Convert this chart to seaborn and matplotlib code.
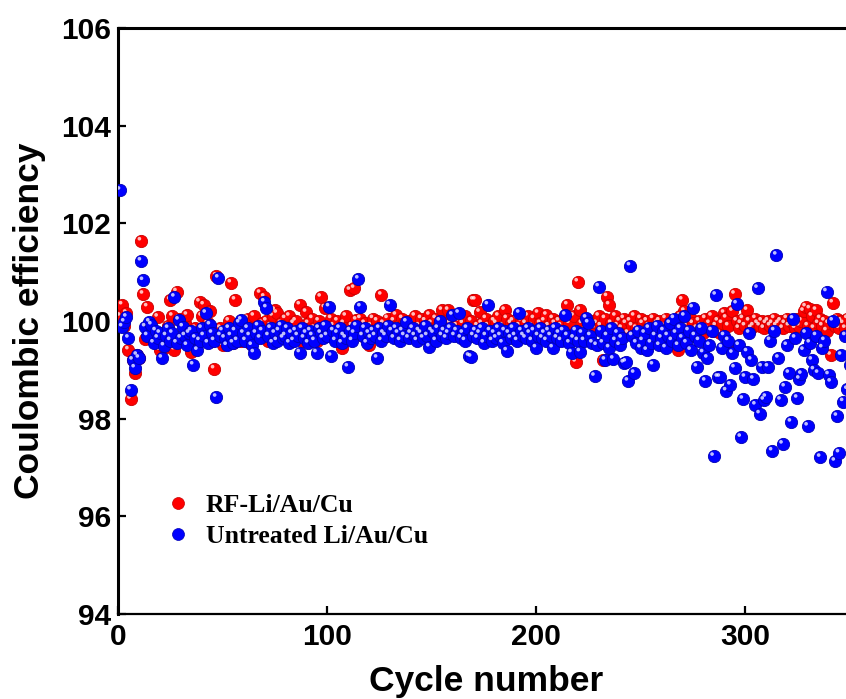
import numpy as np
import pandas as pd
import matplotlib
matplotlib.use("Agg")
import matplotlib.pyplot as plt
import matplotlib.transforms as mtransforms
from matplotlib.lines import Line2D
import seaborn as sns

# ---------------- data ----------------
series_names = ["RF-Li/Au/Cu", "Untreated Li/Au/Cu"]
series_colors = ["#ff0000", "#0000ff"]
edge_colors = ["#c80000", "#0000b4"]

cycles = list(range(1, 351))

rf_ce = [
    100.10, 100.33, 99.90, 100.16, 99.41, 98.40, 99.20, 98.93, 99.30, 99.25,
    101.64, 100.55, 99.63, 100.29, 99.85, 99.80, 99.70, 99.55, 100.08, 99.40,
    99.60, 99.45, 99.75, 99.90, 100.43, 100.10, 99.41, 100.60, 100.05, 99.70,
    100.00, 99.95, 100.12, 99.80, 99.37, 99.60, 99.85, 99.55, 100.39, 100.10,
    100.33, 99.75, 99.95, 100.20, 99.60, 99.02, 100.92, 99.70, 99.85, 99.50,
    99.80, 99.65, 100.00, 100.78, 99.55, 100.43, 99.70, 99.90, 99.60, 99.85,
    99.90, 100.05, 99.55, 99.80, 100.10, 99.70, 99.82, 100.57, 99.95, 100.49,
    100.00, 99.60, 99.90, 100.10, 100.22, 100.16, 99.75, 99.95, 99.65, 100.05,
    99.85, 100.10, 99.70, 99.95, 100.00, 99.80, 100.33, 99.60, 99.90, 100.18,
    99.95, 99.70, 100.05, 99.85, 99.60, 100.00, 100.49, 99.80, 100.27, 99.90,
    99.75, 100.05, 99.90, 99.65, 100.00, 99.85, 99.45, 99.95, 100.10, 99.70,
    100.63, 99.90, 100.67, 100.02, 99.80, 100.05, 99.70, 99.95, 99.85, 99.51,
    99.90, 100.05, 99.75, 100.00, 99.85, 100.53, 99.95, 99.70, 100.05, 99.90,
    99.80, 100.00, 100.12, 99.90, 99.75, 100.05, 99.95, 99.85, 100.00, 99.80,
    99.95, 100.10, 99.75, 99.90, 100.05, 99.85, 100.00, 99.70, 100.12, 99.95,
    99.80, 100.05, 99.90, 99.75, 100.22, 100.00, 99.85, 100.22, 99.95, 99.80,
    100.05, 99.90, 100.00, 99.75, 99.95, 100.10, 99.85, 99.70, 100.00, 100.43,
    100.43, 99.90, 100.18, 99.95, 99.80, 100.05, 99.90, 99.75, 99.65, 100.00,
    99.95, 100.10, 99.85, 99.90, 100.22, 100.05, 99.80, 99.95, 100.00, 99.85,
    100.05, 99.90, 100.00, 99.75, 99.95, 100.10, 99.85, 99.90, 100.05, 99.80,
    100.16, 99.95, 99.85, 100.00, 100.12, 99.90, 99.75, 100.05, 99.95, 99.85,
    100.00, 99.90, 100.05, 99.80, 100.33, 99.95, 99.70, 100.10, 99.16, 100.80,
    100.22, 99.95, 99.80, 100.05, 99.90, 99.75, 100.00, 99.85, 99.95, 100.10,
    99.90, 99.20, 100.05, 100.50, 100.33, 99.95, 99.80, 100.10, 99.90, 100.00,
    99.85, 100.05, 99.95, 99.75, 100.00, 99.90, 100.10, 99.85, 99.70, 100.05,
    99.95, 99.80, 100.00, 99.90, 99.75, 100.05, 99.85, 99.95, 100.00, 99.80,
    99.90, 100.05, 99.75, 99.95, 99.85, 100.00, 99.60, 99.40, 100.10, 100.43,
    100.20, 99.90, 99.80, 100.05, 99.95, 99.70, 99.85, 100.00, 99.90, 99.75,
    100.05, 99.85, 99.95, 100.10, 99.80, 99.90, 100.00, 99.75, 99.95, 100.16,
    100.06, 99.90, 99.47, 100.20, 100.55, 100.00, 99.85, 99.95, 100.05, 99.90,
    100.22, 100.00, 99.85, 99.90, 100.05, 99.95, 99.90, 100.00, 99.85, 99.95,
    100.00, 99.90, 99.95, 100.05, 99.90, 99.95, 100.00, 99.85, 99.95, 100.05,
    99.90, 100.00, 99.95, 99.85, 100.05, 99.90, 100.00, 100.20, 100.29, 99.90,
    100.25, 100.10, 99.85, 100.22, 99.95, 100.05, 99.90, 100.00, 99.80, 99.95,
    99.30, 100.37, 99.90, 100.05, 99.85, 100.00, 99.95, 99.85, 100.05, 99.90,
]

untreated_ce = [
    102.68, 99.88, 99.98, 100.08, 99.65, 98.59, 99.20, 99.04, 99.30, 99.24,
    101.23, 100.83, 99.88, 99.70, 99.98, 99.92, 99.55, 99.80, 99.65, 99.75,
    99.24, 99.49, 99.70, 99.85, 99.60, 99.75, 100.49, 99.55, 100.02, 99.65,
    99.88, 99.70, 99.50, 99.75, 99.80, 99.10, 99.65, 99.40, 99.60, 99.85,
    99.70, 100.16, 99.55, 99.92, 99.75, 99.60, 98.44, 100.88, 99.70, 99.80,
    99.65, 99.50, 99.85, 99.70, 99.55, 99.80, 99.60, 99.96, 100.02, 99.75,
    99.60, 99.85, 99.70, 99.50, 99.35, 99.75, 99.90, 99.65, 99.80, 100.39,
    100.27, 99.70, 99.85, 99.55, 99.75, 99.60, 99.80, 99.90, 99.65, 99.70,
    99.85, 99.55, 99.75, 99.60, 99.80, 99.70, 99.35, 99.85, 99.65, 99.75,
    99.55, 99.80, 99.70, 99.60, 99.35, 99.85, 99.75, 99.65, 99.90, 99.70,
    100.29, 99.28, 99.80, 99.60, 99.75, 99.85, 99.55, 99.70, 99.65, 99.06,
    99.80, 99.60, 99.75, 99.90, 100.86, 100.29, 99.70, 99.85, 99.55, 99.75,
    99.65, 99.80, 99.70, 99.24, 99.85, 99.60, 99.75, 99.70, 99.90, 100.33,
    99.80, 99.65, 99.85, 99.75, 99.60, 99.80, 99.70, 99.98, 99.65, 99.75,
    99.85, 99.70, 99.60, 99.80, 99.75, 99.65, 99.90, 99.70, 99.47, 99.80,
    99.75, 99.60, 99.85, 100.00, 99.70, 99.80, 99.65, 99.75, 99.85, 100.12,
    99.70, 99.80, 100.16, 99.65, 99.75, 99.60, 99.85, 99.28, 99.26, 99.70,
    99.80, 99.65, 99.75, 99.85, 99.55, 99.70, 100.33, 99.80, 99.60, 99.75,
    99.65, 99.85, 99.70, 99.55, 99.80, 99.39, 99.75, 99.65, 99.85, 99.70,
    99.60, 100.16, 99.80, 99.70, 99.65, 99.85, 99.75, 99.60, 99.80, 99.45,
    99.70, 99.85, 99.65, 99.75, 99.60, 99.80, 99.70, 99.45, 99.85, 99.65,
    99.75, 99.60, 99.80, 100.12, 99.70, 99.55, 99.35, 99.65, 99.80, 99.60,
    99.37, 99.75, 99.60, 100.06, 99.96, 99.70, 99.55, 98.87, 99.50, 100.70,
    99.80, 99.55, 99.20, 99.70, 99.45, 99.85, 99.22, 99.60, 99.75, 99.50,
    99.65, 99.14, 99.16, 98.77, 101.13, 99.70, 98.93, 99.55, 99.80, 99.45,
    99.60, 99.75, 99.40, 99.85, 99.55, 99.10, 99.70, 99.90, 99.50, 99.65,
    99.80, 99.45, 99.70, 99.95, 99.60, 100.05, 99.75, 99.50, 99.85, 99.65,
    100.10, 99.55, 99.80, 99.40, 100.27, 99.70, 99.06, 99.60, 99.85, 99.35,
    98.77, 99.24, 99.50, 99.80, 97.23, 100.53, 98.85, 98.85, 99.45, 99.70,
    98.57, 99.60, 98.69, 99.34, 99.04, 100.35, 99.50, 97.62, 98.40, 98.85,
    99.37, 99.75, 99.20, 98.81, 98.28, 100.67, 98.10, 99.06, 98.38, 98.44,
    99.06, 99.60, 97.34, 99.80, 101.35, 99.24, 98.38, 97.48, 98.65, 99.50,
    98.93, 97.93, 100.04, 99.65, 98.42, 98.81, 98.91, 99.40, 99.75, 97.85,
    99.55, 99.20, 99.00, 99.70, 98.93, 97.21, 99.45, 99.60, 100.60, 98.90,
    98.75, 100.00, 97.13, 98.05, 97.30, 99.30, 98.35, 99.70, 98.60, 99.10,
]

x_ticks = [0, 100, 200, 300]
y_ticks = [94, 96, 98, 100, 102, 104, 106]

df = pd.DataFrame({
    "Cycle": cycles * 2,
    "CE": rf_ce + untreated_ce,
    "Series": [series_names[0]] * len(cycles) + [series_names[1]] * len(cycles),
})

# ---------------- figure ----------------
sns.set_style("ticks")
plt.rcParams["font.family"] = ["Liberation Sans", "DejaVu Sans"]
plt.rcParams["font.weight"] = "bold"
plt.rcParams["text.color"] = "black"
plt.rcParams["axes.labelcolor"] = "black"
plt.rcParams["xtick.color"] = "black"
plt.rcParams["ytick.color"] = "black"
plt.rcParams["axes.edgecolor"] = "black"

fig = plt.figure(figsize=(8.46, 6.99), dpi=100)
W, H = 846, 699
x_max = 360
px_per_unit = 2.09
left_px, right_px = 118, 118 + x_max * px_per_unit
top_px, bottom_px = 28, 614
ax = fig.add_axes([left_px / W, 1 - bottom_px / H,
                   (right_px - left_px) / W, (bottom_px - top_px) / H])

for name, col, ec in zip(series_names, series_colors, edge_colors):
    sub = df[df["Series"] == name]
    sns.scatterplot(data=sub, x="Cycle", y="CE", color=col, s=78,
                    edgecolor=ec, linewidth=0.6, ax=ax, legend=False,
                    zorder=3, clip_on=True)
    hl = mtransforms.offset_copy(ax.transData, fig=fig, x=-1.6, y=2.2, units="dots")
    sns.scatterplot(data=sub, x="Cycle", y="CE", color="white", s=7,
                    edgecolor="none", linewidth=0, alpha=0.75, ax=ax,
                    legend=False, transform=hl, zorder=3)

ax.set_xlim(0, x_max)
ax.set_ylim(94, 106)
ax.set_xticks(x_ticks)
ax.set_yticks(y_ticks)
ax.tick_params(direction="in", length=5.5, width=1.6, labelsize=21.5,
               colors="black", labelcolor="black")
ax.tick_params(axis="x", pad=6.5)
ax.tick_params(axis="y", pad=5)
for lab in ax.get_xticklabels() + ax.get_yticklabels():
    lab.set_fontweight("bold")
    lab.set_color("black")
for sp in ["left", "top", "right"]:
    ax.spines[sp].set_linewidth(2.2)
    ax.spines[sp].set_color("black")
ax.spines["bottom"].set_linewidth(1.6)
ax.spines["bottom"].set_color("black")

ax.set_xlabel("Cycle number", fontsize=25.5, fontweight="bold", color="black")
ax.set_ylabel("Coulombic efficiency", fontsize=25.5, fontweight="bold", color="black")
ax.xaxis.set_label_coords((486 - left_px) / (right_px - left_px),
                          -(681 - bottom_px) / (bottom_px - top_px))
ax.xaxis.label.set_va("center")
ax.yaxis.set_label_coords(-(118 - 30) / (right_px - left_px), 0.5)
ax.yaxis.label.set_va("center")

handles = [Line2D([0], [0], linestyle="none", marker="o", markersize=8.6,
                  markerfacecolor=c, markeredgecolor=e, markeredgewidth=0.5)
           for c, e in zip(series_colors, edge_colors)]
leg = ax.legend(handles, series_names, loc="upper left",
                bbox_to_anchor=(152 / W, 1 - 481 / H), bbox_transform=fig.transFigure,
                frameon=False, handlelength=1.0, handletextpad=0.6,
                labelspacing=0.3, borderpad=0.0,
                prop={"family": "Liberation Serif", "weight": "bold", "size": 18.5})
for t in leg.get_texts():
    t.set_color("black")

fig.savefig("out.png", dpi=100)
